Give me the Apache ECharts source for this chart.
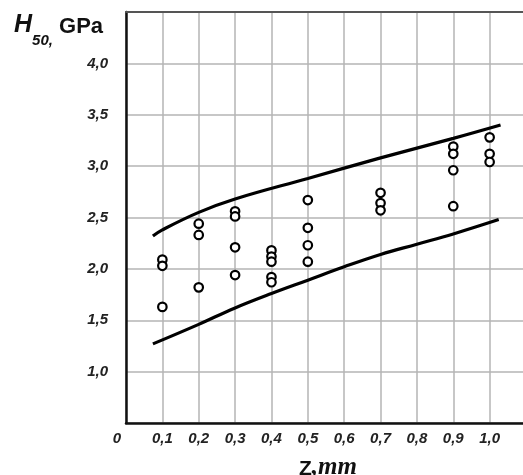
<!DOCTYPE html>
<html>
<head>
<meta charset="utf-8">
<script src="https://cdn.jsdelivr.net/npm/echarts@6/dist/echarts.min.js"></script>
<style>html,body{margin:0;padding:0;background:#fff}#c{width:523px;height:475px}</style>
</head>
<body>
<div id="c"></div>
<script>
// Measured points
const pointsZ = [0.1,0.1,0.1, 0.2,0.2,0.2, 0.3,0.3,0.3,0.3, 0.4,0.4,0.4,0.4,0.4, 0.5,0.5,0.5,0.5, 0.7,0.7,0.7, 0.9,0.9,0.9,0.9, 1.0,1.0,1.0];
const pointsH = [2.09,2.03,1.63, 2.44,2.33,1.82, 2.56,2.51,2.21,1.94, 2.18,2.12,2.07,1.92,1.87, 2.67,2.40,2.23,2.07, 2.74,2.64,2.57, 3.19,3.12,2.96,2.61, 3.28,3.12,3.04];
// Upper bound curve
const upperZ = [0.074,0.1,0.2,0.3,0.5,0.7,0.9,1.03];
const upperH = [2.32,2.38,2.55,2.68,2.88,3.08,3.27,3.40];
// Lower bound curve
const lowerZ = [0.074,0.2,0.3,0.4,0.5,0.6,0.7,0.8,0.9,1.025];
const lowerH = [1.27,1.46,1.62,1.76,1.89,2.02,2.14,2.24,2.34,2.48];
// Axis labels
const xTickLabels = ['0','0,1','0,2','0,3','0,4','0,5','0,6','0,7','0,8','0,9','1,0'];
const yTickLabels = {'1.0':'1,0','1.5':'1,5','2.0':'2,0','2.5':'2,5','3.0':'3,0','3.5':'3,5','4.0':'4,0'};

const zip = (a,b) => a.map((v,i)=>[v,b[i]]);
const chart = echarts.init(document.getElementById('c'), null, {renderer:'canvas'});
const labelFont = {fontFamily:'Liberation Sans, Arial, sans-serif', fontWeight:'bold', fontStyle:'italic', fontSize:15, color:'#222'};
chart.setOption({
  animation:false,
  backgroundColor:'#fff',
  title:[
    {left:9, top:15, text:'{h|H}{s|50,}{g| GPa}',
     textStyle:{rich:{
       h:{fontFamily:'Liberation Sans, Arial, sans-serif', fontWeight:'bold', fontStyle:'italic', fontSize:25, color:'#111', verticalAlign:'bottom', lineHeight:28, padding:[0,0,10,0]},
       s:{fontFamily:'Liberation Sans, Arial, sans-serif', fontWeight:'bold', fontStyle:'italic', fontSize:15, color:'#111', verticalAlign:'bottom', lineHeight:18},
       g:{fontFamily:'Liberation Sans, Arial, sans-serif', fontWeight:'bold', fontSize:22, color:'#111', verticalAlign:'bottom', lineHeight:28, padding:[0,0,10,0]}
     }}},
    {left:294, top:449, text:'{z|Z}{m|,mm}',
     textStyle:{rich:{
       z:{fontFamily:'Liberation Sans, Arial, sans-serif', fontWeight:'bold', fontSize:21, color:'#111', verticalAlign:'bottom', lineHeight:26},
       m:{fontFamily:'Liberation Serif, Times New Roman, serif', fontStyle:'italic', fontSize:25, color:'#111', verticalAlign:'bottom', lineHeight:26}
     }}}
  ],
  grid:{left:126, top:12, width:400, height:411, containLabel:false, outerBoundsMode:'none'},
  xAxis:[{
    type:'value', min:0, max:1.1, interval:0.1, position:'bottom',
    axisLine:{show:true, onZero:false, lineStyle:{color:'#111', width:2.5}},
    axisTick:{show:false},
    splitLine:{show:true, lineStyle:{color:'#b5b5b5', width:1.5}},
    axisLabel:Object.assign({margin:8, formatter:(v)=>{
      const i = Math.round(v*10);
      if (i===0) return '{o|0}';
      return i<xTickLabels.length ? xTickLabels[i] : '';
    }, rich:{o:Object.assign({padding:[0,18,0,0]}, labelFont)}}, labelFont)
  },{
    type:'value', min:0, max:1.1, position:'top',
    axisLine:{show:true, lineStyle:{color:'#555', width:2}},
    axisTick:{show:false}, axisLabel:{show:false}, splitLine:{show:false}
  }],
  yAxis:{
    type:'value', min:0.5, max:4.5, interval:0.5,
    axisLine:{show:true, onZero:false, lineStyle:{color:'#111', width:2.5}},
    axisTick:{show:false},
    splitLine:{show:true, lineStyle:{color:'#b5b5b5', width:1.5}},
    axisLabel:Object.assign({margin:18, formatter:(v)=>yTickLabels[v.toFixed(1)]||''}, labelFont)
  },
  series:[
    {type:'line', smooth:0.4, showSymbol:false, symbol:'none', data:zip(upperZ,upperH), lineStyle:{color:'#000', width:3.2}, z:3},
    {type:'line', smooth:0.4, showSymbol:false, symbol:'none', data:zip(lowerZ,lowerH), lineStyle:{color:'#000', width:3.2}, z:3},
    {type:'scatter', symbol:'circle', symbolSize:8.5, data:zip(pointsZ,pointsH),
     itemStyle:{color:'#fff', borderColor:'#000', borderWidth:2.2, opacity:1}, z:4}
  ]
});
</script>
</body>
</html>
